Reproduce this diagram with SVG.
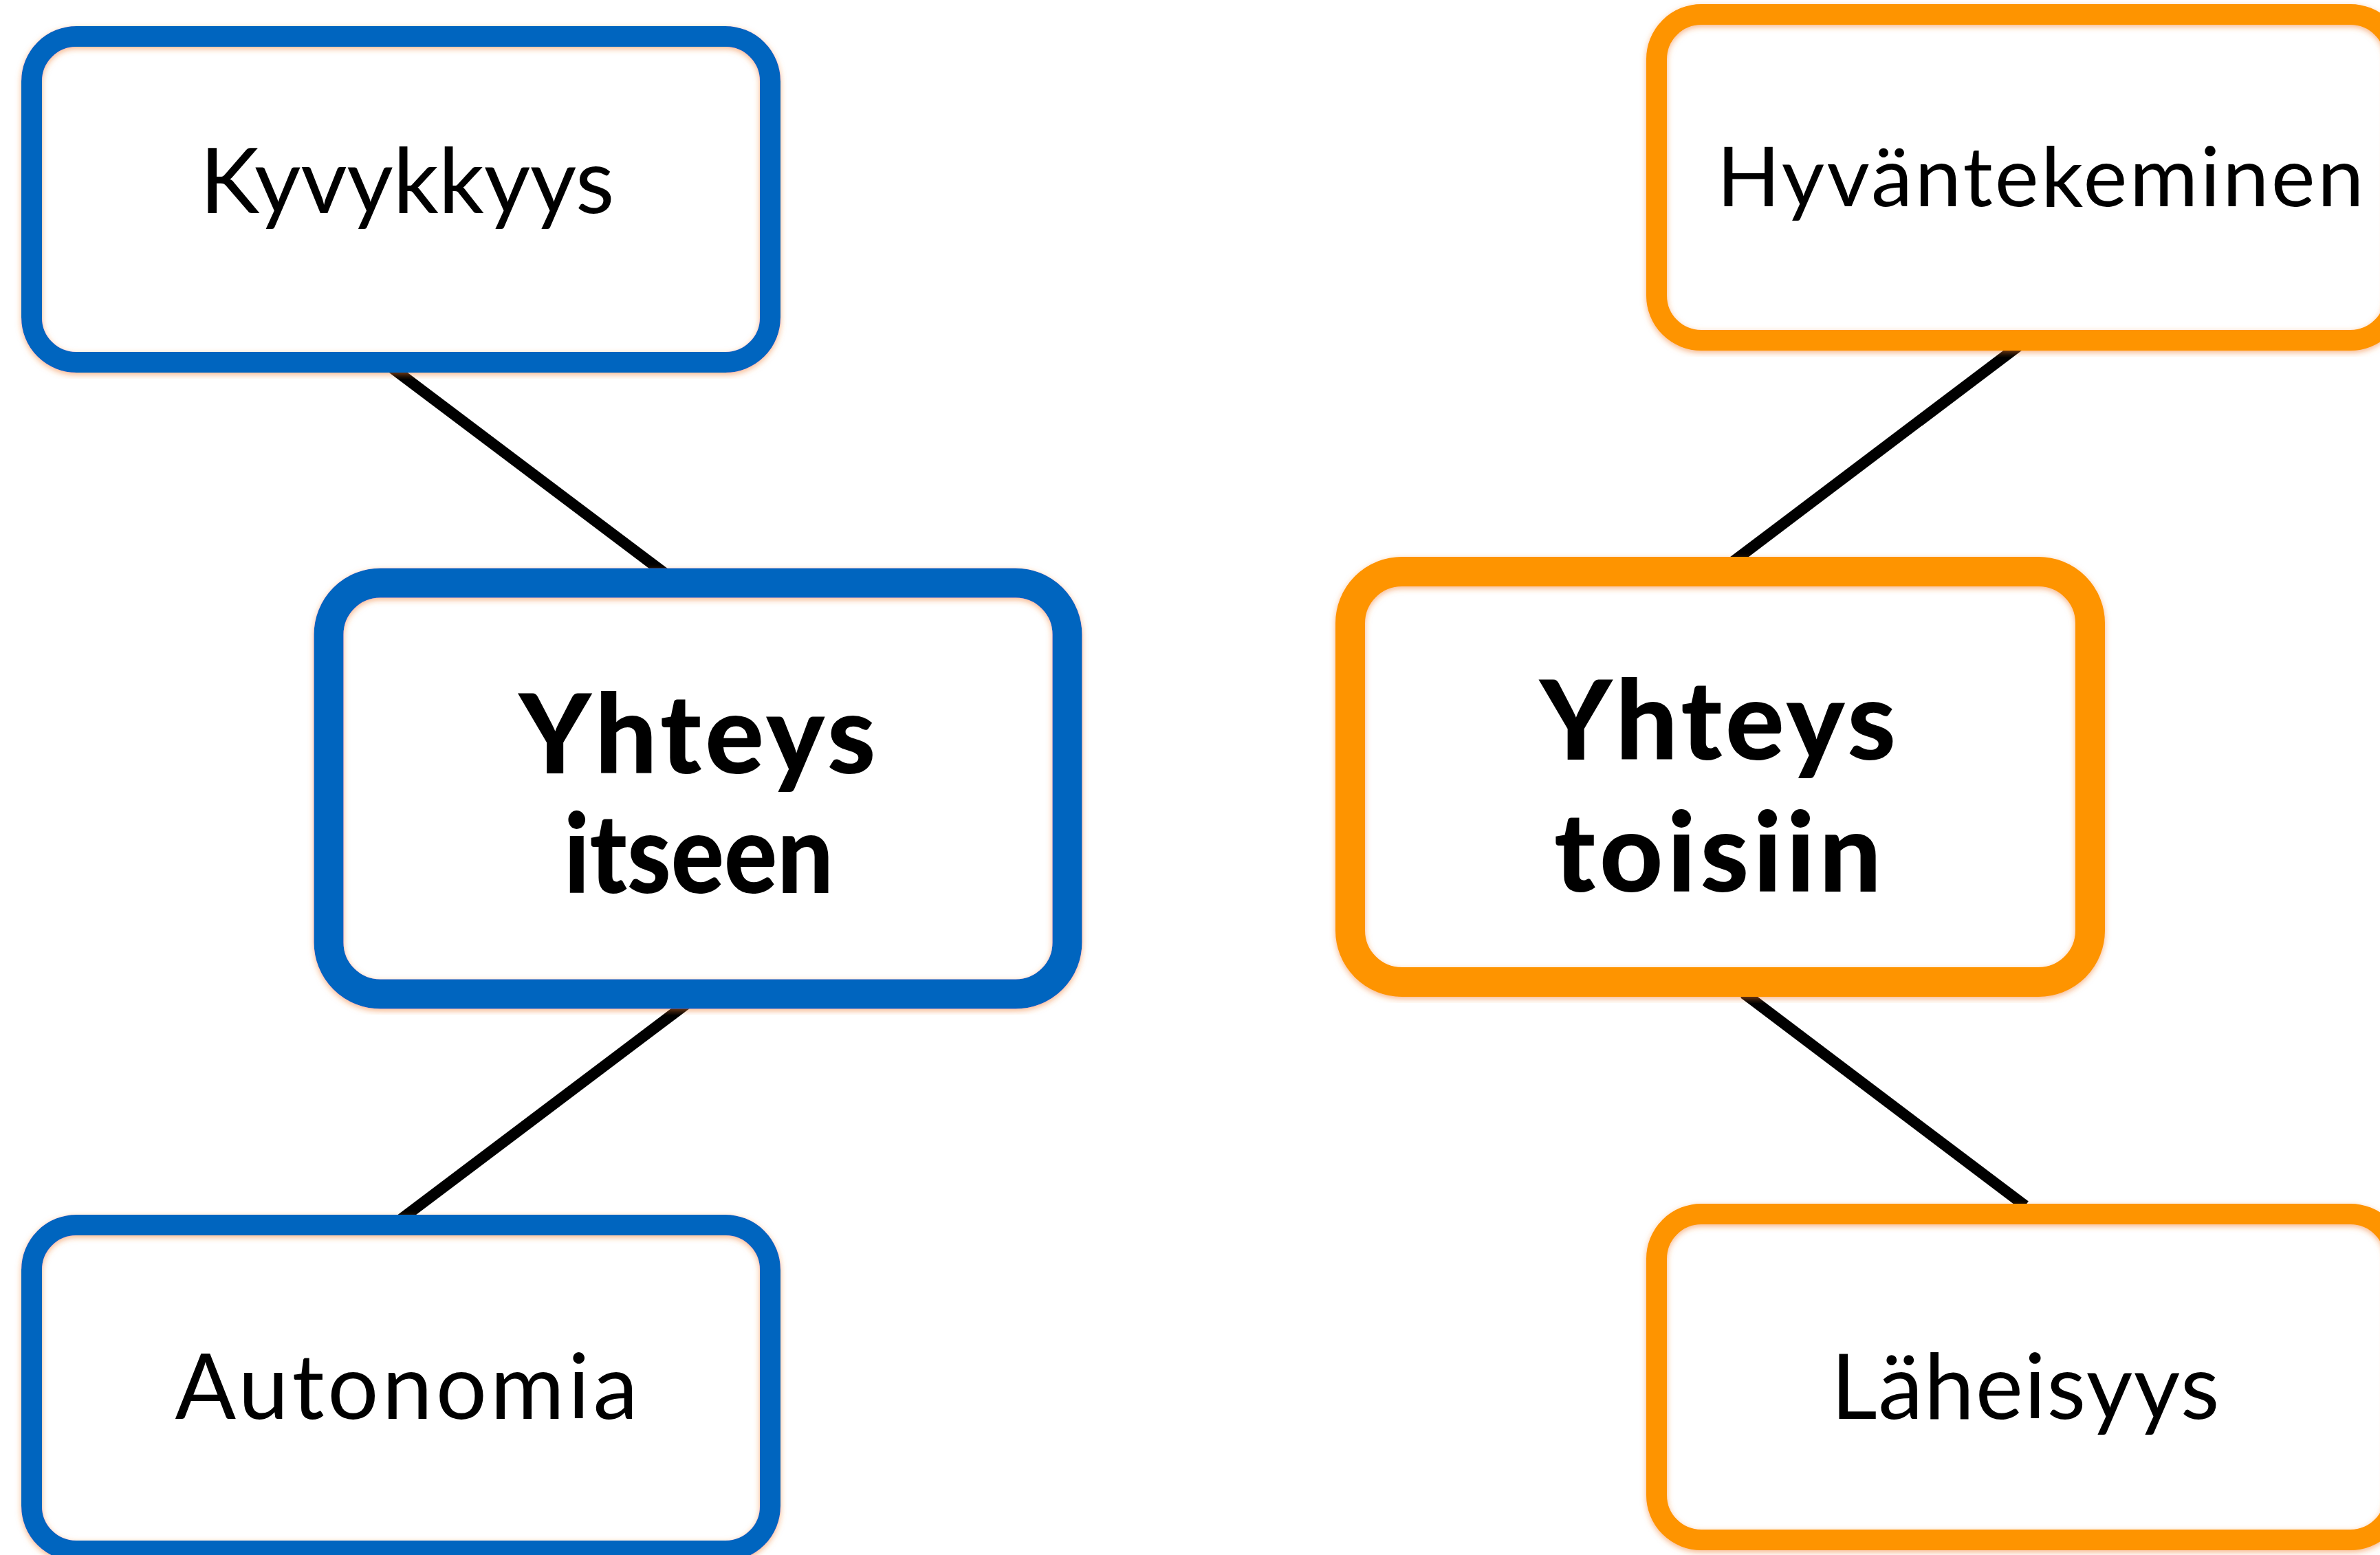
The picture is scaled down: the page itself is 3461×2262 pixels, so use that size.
<svg xmlns="http://www.w3.org/2000/svg" width="3461" height="2262" viewBox="0 0 3461 2262">
<defs>
<filter id="glow" x="-5%" y="-5%" width="110%" height="110%">
<feDropShadow dx="0" dy="3" stdDeviation="4" flood-color="#F07A2A" flood-opacity="0.55"/>
</filter>
<style>
.bg{fill:#ffffff}
.fill{fill:#ffffff;stroke:none}
.blue{fill:none;stroke:#0565BF;filter:url(#glow)}
.orange{fill:none;stroke:#FE9400;filter:url(#glow)}
.small{stroke-width:30}
.big{stroke-width:43}
.lbl{font-family:Lato,"Noto Sans","Liberation Sans",sans-serif;font-weight:400;fill:#000;text-anchor:middle}
.hv{font-family:Lato,"Noto Sans","Liberation Sans",sans-serif;font-weight:900;fill:#000;text-anchor:middle}
.conn{stroke:#000;stroke-width:16;fill:none}
</style>
</defs>
<rect class="bg" x="0" y="0" width="3461" height="2262"/>
<g id="connectors">
<line class="conn" x1="570" y1="535" x2="968" y2="835"/>
<line class="conn" x1="580" y1="1776" x2="1000" y2="1459"/>
<line class="conn" x1="2937" y1="502" x2="2519" y2="818"/>
<line class="conn" x1="2536" y1="1445" x2="2945" y2="1754"/>
</g>
<g id="kyvykkyys">
<rect class="fill" x="46" y="53" width="1074" height="474" rx="65"/>
<rect class="blue small" x="46" y="53" width="1074" height="474" rx="65"/>
<text class="lbl" x="592" y="310" font-size="131" textLength="603">Kyvykkyys</text>
</g>
<g id="autonomia">
<rect class="fill" x="46" y="1782" width="1074" height="474" rx="65"/>
<rect class="blue small" x="46" y="1782" width="1074" height="474" rx="65"/>
<text class="lbl" x="591" y="2064" font-size="131" textLength="673">Autonomia</text>
</g>
<g id="yhteys-itseen">
<rect class="fill" x="478" y="848" width="1074" height="598" rx="75"/>
<rect class="blue big" x="478" y="848" width="1074" height="598" rx="75"/>
<text class="hv" x="1014" y="1125" font-size="160" textLength="519">Yhteys</text>
<text class="hv" x="1016" y="1299" font-size="160" textLength="392" lengthAdjust="spacingAndGlyphs">itseen</text>
</g>
<g id="hyvantekeminen">
<rect class="fill" x="2409" y="21" width="1074" height="474" rx="65"/>
<rect class="orange small" x="2409" y="21" width="1074" height="474" rx="65"/>
<text class="lbl" x="2967" y="300" font-size="121" textLength="941">Hyväntekeminen</text>
</g>
<g id="yhteys-toisiin">
<rect class="fill" x="1963.5" y="831.5" width="1076" height="597" rx="75"/>
<rect class="orange big" x="1963.5" y="831.5" width="1076" height="597" rx="75"/>
<text class="hv" x="2498" y="1105" font-size="160" textLength="518">Yhteys</text>
<text class="hv" x="2498" y="1297" font-size="160" textLength="476">toisiin</text>
</g>
<g id="laheisyys">
<rect class="fill" x="2409" y="1766" width="1074" height="474" rx="65"/>
<rect class="orange small" x="2409" y="1766" width="1074" height="474" rx="65"/>
<text class="lbl" x="2945" y="2064" font-size="131" textLength="565">Läheisyys</text>
</g>
</svg>
